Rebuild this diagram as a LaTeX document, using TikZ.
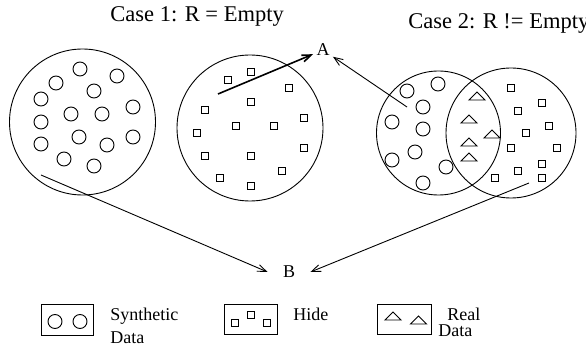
\documentclass[tikz,border=0pt]{standalone}
\usepackage{fontspec}
\setmainfont{Liberation Serif}
\usetikzlibrary{arrows.meta}

\begin{document}
\begin{tikzpicture}[x=1pt, y=-1pt, line width=0.9pt,
        >={Straight Barb[length=9pt,width=7pt]},
        every node/.style={font=\fontsize{18}{22}\selectfont},
        title/.style={anchor=base west, inner sep=0pt, font=\fontsize{22.5}{26}\selectfont},
        legtext/.style={anchor=base west, inner sep=0pt},
        pics/synmark/.style={code={\draw (0,0) circle (7pt);}},
        pics/hidemark/.style={code={\draw (-3.5,-3.5) rectangle (3.5,3.5);}},
        pics/realmark/.style={code={\draw (-8,4) -- (8,4) -- (0,-4) -- cycle;}}]
        \useasboundingbox (0,0) rectangle (586,347);

        \node[title] (case1) at (110,22) {Case 1: R = Empty};
        \node[title] (case2) at (408,29) {Case 2: R != Empty};

        % case 1: synthetic data only
        \draw (82.5,122) circle (73pt);
        \pic at (80,69) {synmark};
        \pic at (117,76) {synmark};
        \pic at (56,83) {synmark};
        \pic at (94,91) {synmark};
        \pic at (41,99) {synmark};
        \pic at (133,107) {synmark};
        \pic at (71,114) {synmark};
        \pic at (102,114) {synmark};
        \pic at (41,122) {synmark};
        \pic at (79,137) {synmark};
        \pic at (133,137) {synmark};
        \pic at (41,144) {synmark};
        \pic at (107,145) {synmark};
        \pic at (64,159) {synmark};
        \pic at (94,166) {synmark};

        % case 1: hide
        \draw (250,128) circle (73pt);
        \pic at (228,80) {hidemark};
        \pic at (251,72) {hidemark};
        \pic at (289,88) {hidemark};
        \pic at (251,102) {hidemark};
        \pic at (205,110) {hidemark};
        \pic at (304,118) {hidemark};
        \pic at (236,126) {hidemark};
        \pic at (274,126) {hidemark};
        \pic at (197,133) {hidemark};
        \pic at (304,148) {hidemark};
        \pic at (205,156) {hidemark};
        \pic at (251,156) {hidemark};
        \pic at (282,171) {hidemark};
        \pic at (220,178) {hidemark};
        \pic at (251,186) {hidemark};

        % case 2: synthetic and hide overlap in real data
        \draw (438.5,133) circle (62pt);
        \draw (511,133) circle (65pt);
        \pic at (438,84) {synmark};
        \pic at (407,91) {synmark};
        \pic at (423,107) {synmark};
        \pic at (392,122) {synmark};
        \pic at (423,129) {synmark};
        \pic at (415,152) {synmark};
        \pic at (392,160) {synmark};
        \pic at (446,167) {synmark};
        \pic at (423,183) {synmark};
        \pic at (477,96) {realmark};
        \pic at (469,119) {realmark};
        \pic at (492,134) {realmark};
        \pic at (469,142) {realmark};
        \pic at (469,157) {realmark};
        \pic at (511,88) {hidemark};
        \pic at (542,103) {hidemark};
        \pic at (518,111) {hidemark};
        \pic at (549,126) {hidemark};
        \pic at (526,133) {hidemark};
        \pic at (511,148) {hidemark};
        \pic at (557,148) {hidemark};
        \pic at (542,164) {hidemark};
        \pic at (518,171) {hidemark};
        \pic at (495,178) {hidemark};
        \pic at (542,178) {hidemark};

        % results
        \node[inner sep=3pt] (A) at (323,50) {A};
        \node[inner sep=2pt, inner xsep=15pt] (B) at (289,272) {B};
        \coordinate (fromhide) at (218,94);
        \coordinate (fromreal) at (407,107);
        \coordinate (fromsyn) at (41,175);
        \coordinate (fromhide2) at (529,183);
        \draw[->, line width=1.6pt] (fromhide) -- (A);
        \draw[->] (fromreal) -- (A);
        \draw[->] (fromsyn) -- (B.west);
        \draw[->] (fromhide2) -- (B.east);

        % legend
        \draw (41,304) rectangle (93,335);
        \pic at (55,321.5) {synmark};
        \pic at (80,321.5) {synmark};
        \node[legtext] (lsyn) at (110,320) {Synthetic};
        \node[legtext] (lsyn2) at (110,343) {Data};

        \draw (224,304) rectangle (277,334);
        \pic at (234.5,323) {hidemark};
        \pic at (250.5,315) {hidemark};
        \pic at (267,323) {hidemark};
        \node[legtext] (lhide) at (293,320) {Hide};

        \draw (377,304) rectangle (431,334);
        \pic at (393,316) {realmark};
        \pic at (418.5,320) {realmark};
        \node[legtext] (lreal) at (447,320) {Real};
        \node[legtext] (lreal2) at (438,336) {Data};
    \end{tikzpicture}
\end{document}
